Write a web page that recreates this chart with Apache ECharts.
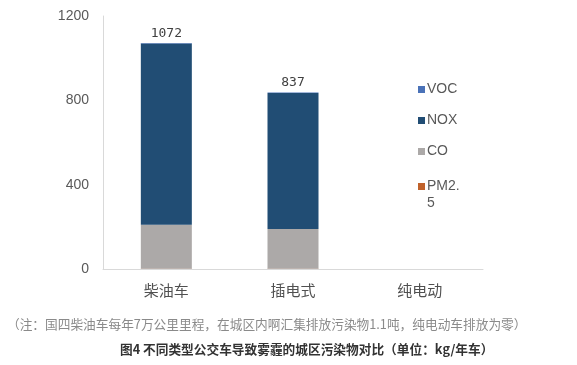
<!DOCTYPE html>
<html><head><meta charset="utf-8">
<script src="https://cdn.jsdelivr.net/npm/echarts@6/dist/echarts.min.js"></script>
<style>html,body{margin:0;padding:0;background:#fff}#c{width:577px;height:365px}</style>
</head><body><div id="c"></div>
<script>
const categories = ['柴油车', '插电式', '纯电动'];
const pm25 = [1, 1, 0];
const co = [209, 189, 0];
const nox = [860, 645, 0];
const voc = [2, 2, 0];
const yTicks = [0, 400, 800, 1200];
const totals = categories.map((_, i) => pm25[i] + co[i] + nox[i] + voc[i]);

const chart = echarts.init(document.getElementById('c'));
const base = { type: 'bar', stack: 'a', barWidth: 51 };
const legendText = { color: '#595959', fontSize: 14, fontFamily: 'Liberation Sans, Arial', padding: [0, 0, 0, -3], lineHeight: 17 };
chart.setOption({
  animation: false,
  grid: { left: 103, right: 94, top: 16, bottom: 96 },
  legend: [{
    orient: 'vertical', left: 413, top: 76, itemWidth: 7, itemHeight: 7, itemGap: 14,
    icon: 'rect', data: ['VOC', 'NOX', 'CO'], textStyle: legendText
  }, {
    orient: 'vertical', left: 413, top: 156, itemWidth: 7, itemHeight: 7,
    icon: 'rect', data: ['PM2.5'], formatter: () => ' \nPM2.\n5',
    textStyle: legendText
  }],
  xAxis: {
    type: 'category', data: categories,
    axisLine: { lineStyle: { color: '#d9d9d9' } }, axisTick: { show: false },
    axisLabel: { color: '#505050', fontSize: 15, margin: 14, fontFamily: 'Noto Sans CJK SC' }
  },
  yAxis: {
    type: 'value', min: yTicks[0], max: yTicks[yTicks.length - 1], interval: 400,
    axisLine: { show: true, lineStyle: { color: '#d9d9d9' } }, axisTick: { show: false },
    splitLine: { show: false },
    axisLabel: { color: '#595959', fontSize: 14, margin: 14, fontFamily: 'Liberation Sans, Arial', formatter: v => String(v) }
  },
  series: [
    Object.assign({}, base, { name: 'PM2.5', data: pm25, itemStyle: { color: '#c0622b' } }),
    Object.assign({}, base, { name: 'CO', data: co, itemStyle: { color: '#aca9a8' } }),
    Object.assign({}, base, { name: 'NOX', data: nox, itemStyle: { color: '#214d74' } }),
    Object.assign({}, base, { name: 'VOC', data: voc, itemStyle: { color: '#4a72b8' },
      label: { show: true, position: 'top', distance: 3, color: '#404040', fontSize: 13, fontFamily: 'DejaVu Sans Mono',
        formatter: p => totals[p.dataIndex] > 0 ? String(totals[p.dataIndex]) : '' } })
  ],
  graphic: [
    { type: 'text', left: 7, top: 318, style: { text: '（注：国四柴油车每年7万公里里程，在城区内啊汇集排放污染物1.1吨，纯电动车排放为零）', fill: '#8a8a8a', font: '12.7px "Noto Sans CJK SC"' } },
    { type: 'text', left: 120, top: 343, style: { text: '图4 不同类型公交车导致雾霾的城区污染物对比（单位：kg/年车）', fill: '#333', font: 'bold 12.7px "Noto Sans CJK SC"' } }
  ]
});
</script></body></html>
